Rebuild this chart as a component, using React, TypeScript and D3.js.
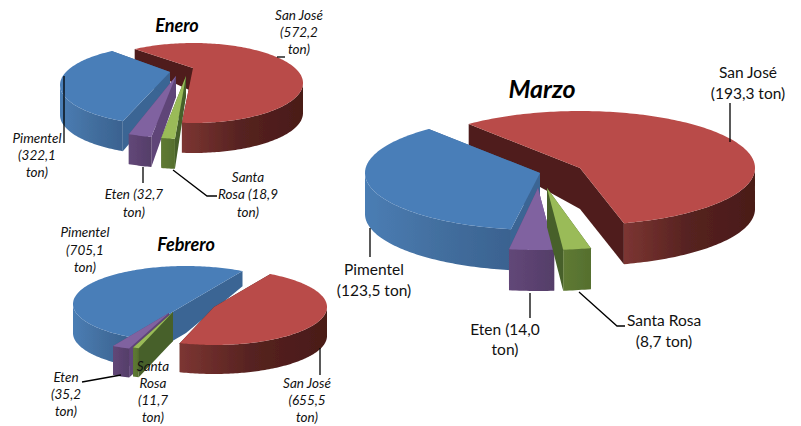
import React, { useEffect, useRef } from "react";
import { line, pie, range, scaleOrdinal, select } from "d3";

const places = ["San José", "Santa Rosa", "Eten", "Pimentel"];
const enero = [572.2, 18.9, 32.7, 322.1];
const febrero = [655.5, 11.7, 35.2, 705.1];
const marzo = [193.3, 8.7, 14.0, 123.5];

const topColor = scaleOrdinal<string, string>()
  .domain(places)
  .range(["#b94c49", "#9abb59", "#8062a0", "#4a7eb8"]);
const wallColor = scaleOrdinal<string, string>()
  .domain(places)
  .range(["#4f1e1b", "#46602a", "#5f4478", "#3a6594"]);
const rimStops = scaleOrdinal<string, string[]>()
  .domain(places)
  .range([
    ["#7c3532", "#552220", "#4a1a18"],
    ["#5f7a34", "#5a7531", "#566f2e"],
    ["#624778", "#5b4270", "#553e69"],
    ["#4a7db4", "#436f9f", "#3a6290"],
  ]);

// [x shift, y shift, tip lift] of each exploded slice, in places order
type Shift = [number, number, number];
type PieLayout = {
  id: string;
  values: number[];
  cx: number;
  cy: number;
  rx: number;
  ry: number;
  depth: number;
  start: number;
  shifts: Shift[];
  paint: number[];
};

const layouts: PieLayout[] = [
  {
    id: "enero",
    values: enero,
    cx: 176,
    cy: 84,
    rx: 110,
    ry: 40,
    depth: 30,
    start: -32,
    shifts: [
      [17, -1, 15],
      [10, 15, 23],
      [0, 14, 22],
      [-6, 1, 13],
    ],
    paint: [0, 3, 2, 1],
  },
  {
    id: "febrero",
    values: febrero,
    cx: 200,
    cy: 305,
    rx: 113,
    ry: 38,
    depth: 29,
    start: 30,
    shifts: [
      [14, 2, 0],
      [-27, 7, 0],
      [-31, 8, 0],
      [-14, -1, 0],
    ],
    paint: [3, 0, 2, 1],
  },
  {
    id: "marzo",
    values: marzo,
    cx: 545,
    cy: 172,
    rx: 175,
    ry: 57,
    depth: 41,
    start: -39.5,
    shifts: [
      [35, -4, 0],
      [2, 21, 5],
      [-7, 21, 5],
      [-5, 1, 0],
    ],
    paint: [0, 3, 2, 1],
  },
];

type Label = { x: number; y: number[]; lines: string[] };

const eneroLabels: Label[] = [
  { x: 299, y: [20, 37, 54], lines: ["San José", "(572,2", "ton)"] },
  { x: 37, y: [143, 160, 177], lines: ["Pimentel", "(322,1", "ton)"] },
  { x: 134, y: [199, 217], lines: ["Eten (32,7", "ton)"] },
  { x: 248, y: [182, 199, 217], lines: ["Santa", "Rosa (18,9", "ton)"] },
];
const febreroLabels: Label[] = [
  { x: 85, y: [237, 255, 272], lines: ["Pimentel", "(705,1", "ton)"] },
  { x: 66, y: [382, 399, 416], lines: ["Eten", "(35,2", "ton)"] },
  { x: 153, y: [371, 388, 405, 422], lines: ["Santa", "Rosa", "(11,7", "ton)"] },
  { x: 307, y: [388, 405, 422], lines: ["San José", "(655,5", "ton)"] },
];
const marzoLabels: Label[] = [
  { x: 748, y: [78, 99], lines: ["San José", "(193,3 ton)"] },
  { x: 374, y: [275, 296], lines: ["Pimentel", "(123,5 ton)"] },
  { x: 505, y: [335, 355], lines: ["Eten (14,0", "ton)"] },
  { x: 664, y: [326, 347], lines: ["Santa Rosa", "(8,7 ton)"] },
];

const leaders: [number, number][][] = [
  [[277, 57], [285, 57]],
  [[64, 76], [64, 143]],
  [[143, 167], [143, 183]],
  [[173, 170], [207, 196], [217, 196]],
  [[82, 382], [121, 375]],
  [[320, 348], [320, 375]],
  [[730, 103], [730, 142]],
  [[370, 228], [370, 257]],
  [[530, 293], [530, 318]],
  [[579, 292], [617, 326], [625, 326]],
];

const titles = [
  { text: "Enero", x: 177, y: 32, size: 18 },
  { text: "Febrero", x: 186, y: 251, size: 18 },
  { text: "Marzo", x: 542, y: 98, size: 25 },
];

const path = line();

const drawPie = (root: any, p: PieLayout) => {
  const arcs = pie<number>()
    .sort(null)
    .startAngle((p.start * Math.PI) / 180)
    .endAngle(((p.start + 360) * Math.PI) / 180)(p.values);

  p.paint.forEach((i) => {
    const name = places[i];
    const a = arcs[i];
    const [dx, dy, lift] = p.shifts[i];
    const x0 = p.cx + dx;
    const y0 = p.cy + dy;
    const at = (t: number): [number, number] => [
      x0 + p.rx * Math.sin(t),
      y0 - p.ry * Math.cos(t),
    ];
    // nearer points get the full depth, the far side is foreshortened
    const drop = ([x, y]: [number, number]): [number, number] => [
      x,
      y + p.depth * (1 + 0.55 * Math.min(0, (y - y0) / p.ry)),
    ];
    const tip: [number, number] = [x0, y0 - lift];
    const n = Math.ceil((a.endAngle - a.startAngle) / 0.02);
    const rim = range(n + 1).map(
      (k) => a.startAngle + ((a.endAngle - a.startAngle) * k) / n
    );
    const g = root.append("g");

    [a.startAngle, a.endAngle].forEach((t) => {
      const edge = at(t);
      g.append("path")
        .attr("d", path([tip, edge, drop(edge), drop(tip)]) + "Z")
        .attr("fill", wallColor(name));
    });

    const front = rim.filter((t) => Math.cos(t) <= 0).map(at);
    if (front.length > 1) {
      const gradId = `${p.id}-rim-${i}`;
      const grad = root
        .select("defs")
        .append("linearGradient")
        .attr("id", gradId);
      rimStops(name).forEach((c, k) =>
        grad
          .append("stop")
          .attr("offset", k / 2)
          .attr("stop-color", c)
      );
      g.append("path")
        .attr("d", path([...front, ...front.map(drop).reverse()]) + "Z")
        .attr("fill", `url(#${gradId})`);
    }

    g.append("path")
      .attr("d", path([tip, ...rim.map(at)]) + "Z")
      .attr("fill", topColor(name));
  });
};

export default function App() {
  const ref = useRef<SVGGElement>(null);

  useEffect(() => {
    const root = select(ref.current);
    root.selectAll("*").remove();
    root.append("defs");
    layouts.forEach((p) => drawPie(root, p));
  }, []);

  return (
    <svg
      width={801}
      height={426}
      style={{ position: "absolute", left: 0, top: 0, background: "#fff" }}
    >
      <defs>
        <filter id="soft" x="-5%" y="-5%" width="110%" height="110%">
          <feGaussianBlur stdDeviation="0.6" />
        </filter>
      </defs>
      <g ref={ref} filter="url(#soft)" />
      {leaders.map((pts, i) => (
        <path key={i} d={path(pts) ?? ""} fill="none" stroke="#000" strokeWidth={1.3} />
      ))}
      <g fontFamily="Lato" textAnchor="middle" fill="#111">
        {titles.map((t) => (
          <text key={t.text} x={t.x} y={t.y} fontSize={t.size} fontWeight="bold" fontStyle="italic" fill="#000">
            {t.text}
          </text>
        ))}
        {[...eneroLabels, ...febreroLabels].map((l, i) =>
          l.lines.map((s, k) => (
            <text key={`${i}-${k}`} x={l.x} y={l.y[k]} fontSize={13.5} fontStyle="italic">
              {s}
            </text>
          ))
        )}
        {marzoLabels.map((l, i) =>
          l.lines.map((s, k) => (
            <text key={`m${i}-${k}`} x={l.x} y={l.y[k]} fontSize={15.5}>
              {s}
            </text>
          ))
        )}
      </g>
    </svg>
  );
}
